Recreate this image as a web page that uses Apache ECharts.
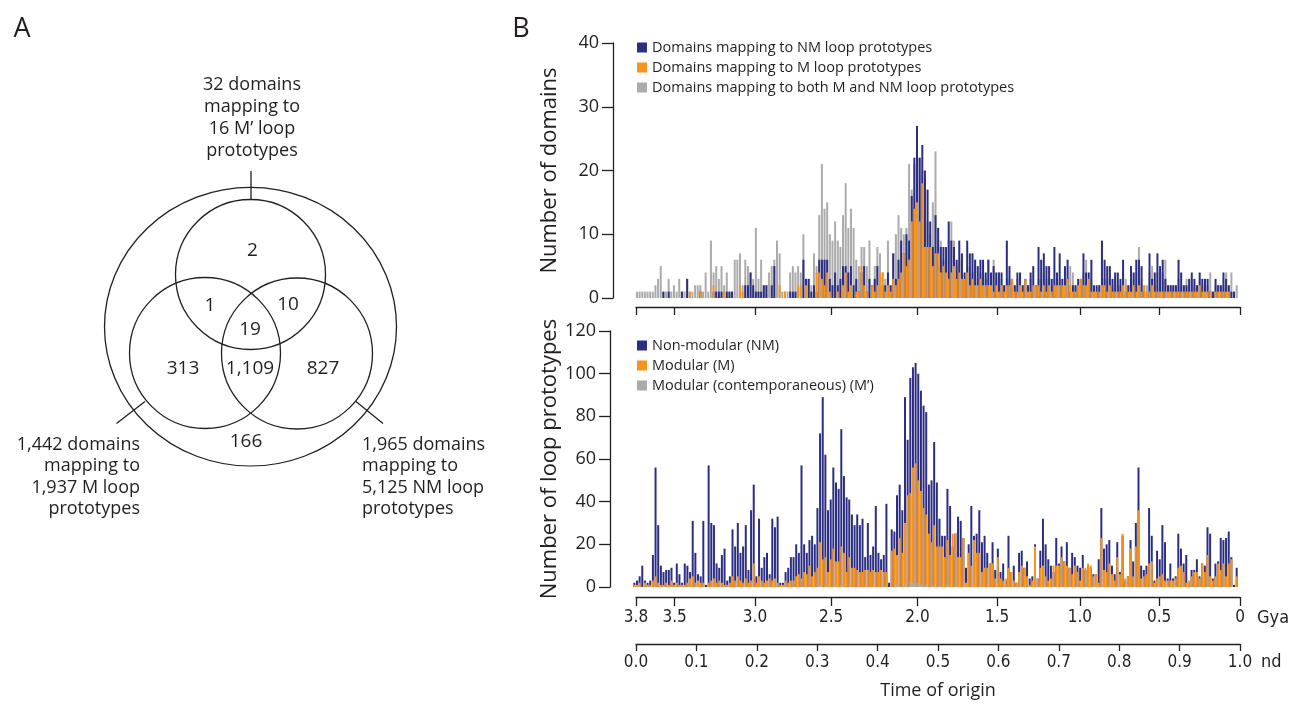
<!DOCTYPE html>
<html>
<head>
<meta charset="utf-8">
<script src="https://cdn.jsdelivr.net/npm/echarts@6/dist/echarts.min.js"></script>
<style>
html,body{margin:0;padding:0;background:#fff;}
#chart{width:1296px;height:709px;}
</style>
</head>
<body>
<div id="chart"></div>
<script>
// ---------------- DATA ----------------
// Panel B, top: number of domains per time-of-origin bin (nd bins, left = oldest)
const topNM = [
0,
0,0,0,0,0,0,0,0,0,0,
1,0,1,0,0,0,0,1,0,3,
0,0,0,0,1,0,0,0,0,1,
1,1,1,0,1,1,1,0,0,0,
0,2,2,4,2,1,1,1,2,2,
0,2,5,0,0,0,0,0,1,1,
1,0,0,6,3,3,1,2,1,6,
6,6,6,3,2,4,2,3,5,5,
4,5,2,3,1,4,5,1,3,2,
3,5,3,2,2,4,2,7,3,6,
9,7,10,9,16,22,27,22,24,20,
17,12,8,13,11,8,8,8,12,9,
8,6,9,7,4,9,7,7,6,5,
6,6,4,6,4,5,4,4,4,2,
9,5,3,2,4,4,2,3,2,4,
5,2,8,6,7,5,5,3,8,4,
7,3,5,6,1,2,2,3,3,7,
4,4,6,2,2,2,9,6,5,5,
3,4,4,3,6,1,2,5,4,6,
6,5,1,0,7,3,4,7,5,6,
3,2,2,2,2,6,4,2,2,3,
4,3,2,4,3,3,3,1,1,3,
2,2,4,3,2,1,1,0
];
const topM = [
0,
0,0,0,0,0,0,0,0,0,0,
0,0,0,0,0,0,0,0,0,0,
1,0,0,0,1,0,0,0,0,2,
0,0,0,1,0,0,0,0,0,2,
1,0,0,0,0,0,0,0,0,0,
0,0,0,0,2,0,1,0,0,0,
0,2,2,0,2,0,0,0,4,4,
3,2,4,1,0,0,1,0,2,4,
1,2,0,1,1,5,2,1,0,2,
1,2,4,4,1,2,1,3,2,3,
4,7,5,6,12,14,15,12,18,8,
8,8,5,7,7,4,5,4,3,4,
5,3,4,3,3,4,2,3,2,2,
3,2,2,2,2,1,2,1,2,1,
2,2,3,1,1,2,1,3,1,1,
2,2,2,1,2,1,2,1,2,2,
2,2,2,3,2,1,1,2,3,2,
2,3,1,1,1,1,2,2,1,2,
1,1,1,1,2,2,1,1,2,1,
2,1,2,1,1,2,1,1,1,1,
1,1,1,1,1,1,1,1,1,1,
1,1,1,2,1,1,1,1,0,1,
1,1,1,1,1,0,0,0
];
const topBoth = [
0,
1,1,1,1,1,1,1,2,3,5,
1,1,3,1,2,1,3,1,1,3,
1,1,2,2,2,1,4,1,9,4,
5,3,5,2,4,1,1,6,6,7,
2,6,5,4,3,11,3,6,2,2,
4,5,6,9,7,1,1,1,4,5,
4,5,4,10,3,3,2,7,5,13,
21,14,15,10,9,12,9,8,13,18,
11,14,11,6,5,8,8,5,9,2,
5,8,7,4,3,9,2,7,10,13,
11,10,11,21,17,21,26,22,20,19,
12,10,15,23,9,9,6,5,9,12,
9,5,6,6,3,5,5,4,6,3,
4,5,3,6,3,6,3,4,3,2,
3,3,2,2,3,2,2,3,2,3,
2,2,3,3,4,3,3,2,3,3,
3,2,3,3,5,4,2,2,2,4,
6,2,3,1,1,2,3,3,3,3,
2,3,2,2,4,3,2,3,3,4,
8,3,2,2,4,5,2,4,3,4,
6,2,2,2,2,3,2,2,3,2,
3,2,2,3,2,2,2,4,1,2,
2,2,2,4,2,4,1,2
];
// Panel B, bottom: number of loop prototypes per bin
const bottomNM = [
2,3,5,10,3,2,3,15,56,29,
10,7,8,8,9,2,11,6,2,11,
10,7,31,16,6,5,31,1,57,30,
29,11,9,15,18,3,5,27,19,30,
16,19,29,8,36,48,5,32,9,14,
16,6,32,28,33,2,2,7,9,14,
14,20,16,57,20,16,22,24,20,37,
72,89,62,36,41,56,49,46,74,52,
42,41,34,29,34,29,32,14,30,15,
19,38,16,13,15,39,2,27,26,43,
48,36,89,69,98,103,105,100,92,85,
82,48,50,68,49,32,24,24,46,38,
19,25,33,31,23,9,20,38,24,25,
36,21,24,16,11,21,8,18,7,11,
3,24,7,10,2,16,17,9,12,4,
5,20,4,17,32,20,13,10,7,23,
11,19,12,21,9,16,14,10,9,15,
8,10,9,6,6,13,37,18,20,22,
10,6,21,7,24,3,5,22,12,30,
56,10,8,10,37,24,3,17,13,29,
21,4,11,4,5,25,18,11,15,2,
8,8,13,5,11,10,28,25,4,11,
12,23,22,23,26,14,1,9
];
const bottomM = [
1,1,2,0,2,1,1,3,5,2,
1,1,2,1,3,1,2,1,1,1,
2,4,5,2,3,2,2,0,2,3,
4,2,3,2,1,1,2,5,3,5,
3,2,4,2,3,11,2,5,3,2,
3,4,3,4,2,1,1,3,2,3,
3,5,6,4,7,6,10,5,7,9,
21,13,14,7,13,18,12,12,19,16,
7,14,9,9,8,7,7,8,8,7,
8,7,7,8,7,7,0,17,18,15,
23,16,30,43,44,56,58,50,45,37,
34,25,21,29,19,19,19,14,22,15,
25,25,14,14,23,2,16,10,22,16,
16,7,9,9,11,11,4,14,4,3,
4,9,7,3,2,7,10,9,5,1,
3,19,4,9,10,5,3,4,10,10,
10,14,12,10,9,6,10,7,3,9,
9,11,10,5,6,2,23,8,7,11,
6,3,14,6,25,4,5,18,5,19,
36,4,5,6,11,12,2,4,5,6,
3,3,3,3,4,9,10,7,2,3,
5,7,7,4,11,7,15,5,3,5,
11,8,11,5,11,13,0,5
];
// M' (contemporaneous) loop prototypes: bin index -> count (all other bins are 0)
const bottomMprimeByBin = {70:1, 78:1, 99:1, 102:1, 104:2, 105:2, 106:2, 107:2, 108:1, 110:1, 113:1, 118:1};

// Axis tick labels
const gyaLabels = ['3.8','3.5','3.0','2.5','2.0','1.5','1.0','0.5','0'];
const gyaPositions = [0, 0.064, 0.197, 0.323, 0.466, 0.598, 0.735, 0.866, 1];

// Legend names
const topNames = ['Domains mapping to NM loop prototypes','Domains mapping to M loop prototypes','Domains mapping to both M and NM loop prototypes'];
const bottomNames = ['Non-modular (NM)','Modular (M)','Modular (contemporaneous) (M\u2019)'];

// Panel A (Venn) texts
const vennCounts = ['2','1','10','19','313','1,109','827','166'];
const vennTopLabel = '32 domains\nmapping to\n16 M\u2019 loop\nprototypes';
const vennLeftLabel = '1,442 domains\nmapping to\n1,937 M loop\nprototypes';
const vennRightLabel = '1,965 domains\nmapping to\n5,125 NM loop\nprototypes';

// ---------------- STYLE / LAYOUT ----------------
const NAVY = '#2B2E83', ORANGE = '#F7941D', GREY = '#ABABAB', INK = '#231F20';
const FONT = '"Open Sans", "Liberation Sans", sans-serif';
const CFONT = '"Liberation Sans Narrow", "DejaVu Sans Condensed", "Open Sans", sans-serif';

const mPrime = bottomM.map((_, i) => bottomMprimeByBin[i] || 0);

const countPos = [[252.5,251],[210,306],[288,305],[250,330],[183,369],[250,369],[323,369],[246,442]];

const chart = echarts.init(document.getElementById('chart'), null, {renderer: 'canvas'});

function barSeries(name, data, color, xi, yi, z) {
  return {
    name, type: 'bar', data, xAxisIndex: xi, yAxisIndex: yi,
    barWidth: 2, barGap: '-100%', z,
    itemStyle: {color},
    emphasis: {disabled: true}, silent: true
  };
}

const yAxisCommon = {
  type: 'value', position: 'left',
  axisLine: {show: true, onZero: false, lineStyle: {color: INK, width: 1.3}},
  axisTick: {show: true, inside: false, length: 11, lineStyle: {color: INK, width: 1.3}},
  axisLabel: {color: INK, fontSize: 18, fontFamily: FONT, margin: 14},
  splitLine: {show: false},
  nameLocation: 'middle', nameRotate: 90,
  nameTextStyle: {color: INK, fontSize: 22, fontFamily: FONT}
};

const vennStroke = {fill: 'none', stroke: INK, lineWidth: 1.3};

const option = {
  animation: false,
  backgroundColor: '#fff',
  grid: [
    {left: 633, top: 43, width: 605, height: 255},
    {left: 633, top: 331, width: 605, height: 256},
    {left: 636, top: 43, width: 604, height: 255},
    {left: 636, top: 331, width: 604, height: 256}
  ],
  xAxis: [
    {type: 'category', gridIndex: 0, show: false},
    {type: 'category', gridIndex: 1, show: false},
    {type: 'value', gridIndex: 2, min: 0, max: 1, position: 'bottom', offset: 9,
      axisLine: {show: true, onZero: false, lineStyle: {color: INK, width: 1.3}},
      axisTick: {show: true, length: 8, customValues: gyaPositions, lineStyle: {color: INK, width: 1.3}},
      axisLabel: {show: false}, splitLine: {show: false}},
    {type: 'value', gridIndex: 3, min: 0, max: 1, position: 'bottom', offset: 10,
      axisLine: {show: true, onZero: false, lineStyle: {color: INK, width: 1.3}},
      axisTick: {show: true, length: 9, customValues: gyaPositions, lineStyle: {color: INK, width: 1.3}},
      axisLabel: {show: true, customValues: gyaPositions, color: INK, fontSize: 17, fontFamily: CFONT, margin: 12,
        formatter: v => { const i = gyaPositions.findIndex(p => Math.abs(p - v) < 1e-6); return i >= 0 ? gyaLabels[i] : ''; }},
      splitLine: {show: false}},
    {type: 'value', gridIndex: 3, min: 0, max: 1, interval: 0.1, position: 'bottom', offset: 57,
      axisLine: {show: true, onZero: false, lineStyle: {color: INK, width: 1.3}},
      axisTick: {show: true, length: 7, lineStyle: {color: INK, width: 1.3}},
      axisLabel: {show: true, color: INK, fontSize: 17, fontFamily: CFONT, margin: 10, formatter: v => v.toFixed(1)},
      splitLine: {show: false}}
  ],
  yAxis: [
    Object.assign({}, yAxisCommon, {gridIndex: 0, min: 0, max: 40, interval: 10, offset: 20,
      name: 'Number of domains', nameGap: 52}),
    Object.assign({}, yAxisCommon, {gridIndex: 1, min: 0, max: 120, interval: 20, offset: 23,
      name: 'Number of loop prototypes', nameGap: 49}),
    {type: 'value', gridIndex: 2, min: 0, max: 1, show: false},
    {type: 'value', gridIndex: 3, min: 0, max: 1, show: false}
  ],
  legend: [
    {data: topNames, left: 632, top: 35, orient: 'vertical', icon: 'rect', itemWidth: 10, itemHeight: 10,
      itemGap: 5, selectedMode: false, textStyle: {color: INK, fontSize: 14.5, fontFamily: FONT, lineHeight: 14}},
    {data: bottomNames, left: 632, top: 333, orient: 'vertical', icon: 'rect', itemWidth: 10, itemHeight: 10,
      itemGap: 5, selectedMode: false, textStyle: {color: INK, fontSize: 14.5, fontFamily: FONT, lineHeight: 14}}
  ],
  series: [
    barSeries(topNames[2], topBoth, GREY, 0, 0, 1),
    barSeries(topNames[0], topNM, NAVY, 0, 0, 2),
    barSeries(topNames[1], topM, ORANGE, 0, 0, 3),
    barSeries(bottomNames[0], bottomNM, NAVY, 1, 1, 1),
    barSeries(bottomNames[1], bottomM, ORANGE, 1, 1, 2),
    barSeries(bottomNames[2], mPrime, GREY, 1, 1, 3)
  ],
  graphic: [
    {type: 'text', x: 22, y: 29, style: {text: 'A', font: '27px ' + FONT, fill: INK, textAlign: 'center', textVerticalAlign: 'middle'}},
    {type: 'text', x: 521, y: 29, style: {text: 'B', font: '27px ' + FONT, fill: INK, textAlign: 'center', textVerticalAlign: 'middle'}},
    {type: 'circle', x: 250.5, y: 326.7, scaleY: 139.3 / 146, shape: {cx: 0, cy: 0, r: 146},
      style: Object.assign({strokeNoScale: true}, vennStroke)},
    {type: 'circle', shape: {cx: 250.5, cy: 274.5, r: 75}, style: vennStroke},
    {type: 'circle', shape: {cx: 205, cy: 353, r: 75.5}, style: vennStroke},
    {type: 'circle', shape: {cx: 297, cy: 353.5, r: 75.5}, style: vennStroke},
    {type: 'line', shape: {x1: 251, y1: 171, x2: 251, y2: 199.5}, style: {stroke: INK, lineWidth: 1.3}},
    {type: 'line', shape: {x1: 145, y1: 401.5, x2: 116.5, y2: 423.5}, style: {stroke: INK, lineWidth: 1.3}},
    {type: 'line', shape: {x1: 356, y1: 401.5, x2: 383, y2: 423.5}, style: {stroke: INK, lineWidth: 1.3}},
    {type: 'text', x: 252, y: 118, style: {text: vennTopLabel, font: '18px ' + FONT, lineHeight: 22, fill: INK, textAlign: 'center', textVerticalAlign: 'middle'}},
    {type: 'text', x: 140, y: 477, style: {text: vennLeftLabel, font: '18px ' + FONT, lineHeight: 21.5, fill: INK, textAlign: 'right', textVerticalAlign: 'middle'}},
    {type: 'text', x: 362, y: 477, style: {text: vennRightLabel, font: '18px ' + FONT, lineHeight: 21.5, fill: INK, textAlign: 'left', textVerticalAlign: 'middle'}},
    ...vennCounts.map((t, i) => ({type: 'text', x: countPos[i][0], y: countPos[i][1],
      style: {text: t, font: '19px ' + FONT, fill: INK, textAlign: 'center', textVerticalAlign: 'middle'}})),
    {type: 'text', x: 1257, y: 618, style: {text: 'Gya', font: '18px ' + CFONT, fill: INK, textAlign: 'left', textVerticalAlign: 'middle'}},
    {type: 'text', x: 1261, y: 662, style: {text: 'nd', font: '18px ' + CFONT, fill: INK, textAlign: 'left', textVerticalAlign: 'middle'}},
    {type: 'text', x: 938, y: 691, style: {text: 'Time of origin', font: '18px ' + FONT, fill: INK, textAlign: 'center', textVerticalAlign: 'middle'}}
  ]
};
chart.setOption(option);
</script>
</body>
</html>
